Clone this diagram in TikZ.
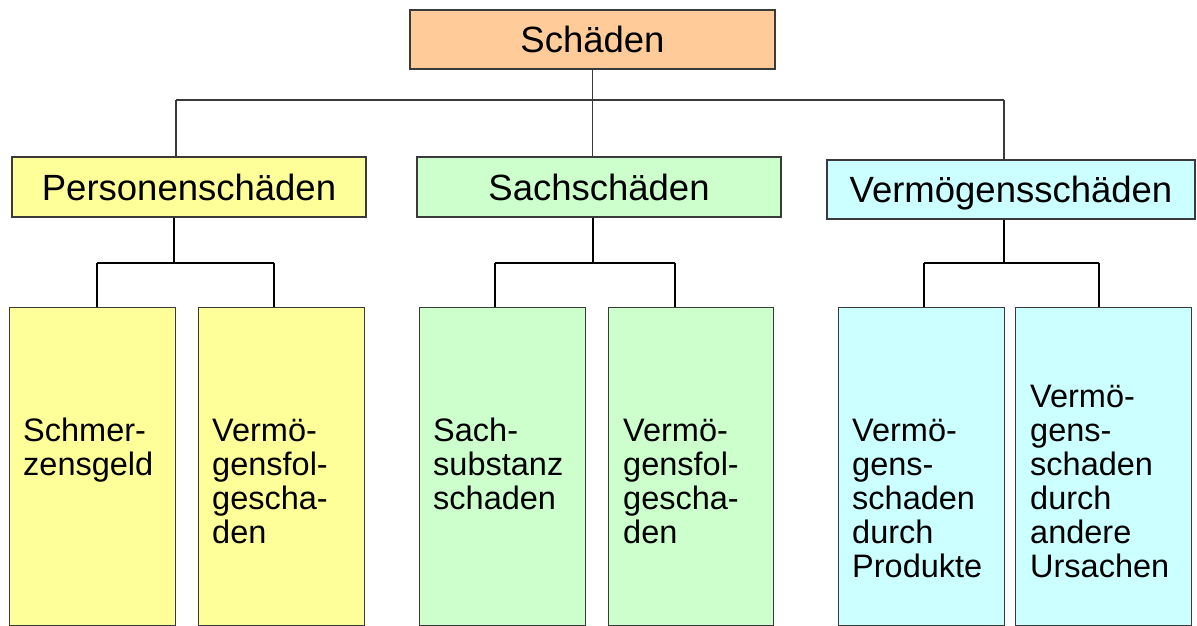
\documentclass[tikz,border=0pt]{standalone}
\usepackage{fontspec}
\setmainfont{Liberation Sans}
\definecolor{cOrange}{HTML}{FFCC99}
\definecolor{cYellow}{HTML}{FFFF99}
\definecolor{cGreen}{HTML}{CCFFCC}
\definecolor{cCyan}{HTML}{CCFFFF}
\definecolor{boxline}{HTML}{3A3A3A}
\tikzset{
  box/.style={draw=boxline, line width=1.3pt, inner sep=0pt, rectangle},
  topbox/.style={box, font=\fontsize{36.5}{40}\selectfont, text height=26pt, text depth=0pt},
  leaf/.style={box, anchor=north west, minimum width=166pt, minimum height=318pt},
  leaftext/.style={anchor=base west, inner sep=0pt, text width=170pt, align=left,
                   font=\fontsize{32.5}{34}\selectfont},
  thinconn/.style={draw=boxline, line width=1.2pt},
  thickconn/.style={draw=black, line width=2.5pt}
}
\begin{document}
\begin{tikzpicture}[x=1pt,y=-1pt]
\useasboundingbox (0,0) rectangle (1197,626);

% top level
\node[topbox, fill=cOrange, minimum width=365pt, minimum height=59pt] (root) at (592.5,39.5) {Schäden};
\node[topbox, fill=cYellow, minimum width=354pt, minimum height=60pt] (p) at (189,187) {Personenschäden};
\node[topbox, fill=cGreen, minimum width=364pt, minimum height=60pt] (s) at (599,187) {Sachschäden};
\node[topbox, fill=cCyan, minimum width=368pt, minimum height=59pt] (v) at (1011,189.5) {Vermögensschäden};

% leaves
\node[leaf, fill=cYellow] (l1) at (9,307) {};
\node[leaf, fill=cYellow] (l2) at (198,307) {};
\node[leaf, fill=cGreen] (l3) at (419,307) {};
\node[leaf, fill=cGreen, minimum width=165pt] (l4) at (608,307) {};
\node[leaf, fill=cCyan] (l5) at (838,307) {};
\node[leaf, fill=cCyan, minimum width=176pt] (l6) at (1015,307) {};

\node[leaftext] (t1) at (23,441) {Schmer-\\zensgeld};
\node[leaftext] (t2) at (212,441) {Vermö-\\gensfol-\\gescha-\\den};
\node[leaftext] (t3) at (433,441) {Sach-\\substanz\\schaden};
\node[leaftext] (t4) at (623,441) {Vermö-\\gensfol-\\gescha-\\den};
\node[leaftext] (t5) at (852,441) {Vermö-\\gens-\\schaden\\durch\\Produkte};
\node[leaftext] (t6) at (1030,407) {Vermö-\\gens-\\schaden\\durch\\andere\\Ursachen};

% top connectors
\coordinate (busL) at (176,100);
\coordinate (busR) at (1004,100);
\draw[thinconn] (busL) -- (busR);
\draw[thinconn] (root.south) -- (root.south |- s.north);
\draw[thinconn] (busL) -- (busL |- p.north);
\draw[thinconn] (busR) -- (busR |- v.north);

% Personen connectors
\coordinate (pj) at (174,263);
\coordinate (pl) at (97,263);
\coordinate (pr) at (274,263);
\draw[thickconn] (p.south -| pj) -- (pj);
\draw[thickconn] (pl) -- (pr);
\draw[thickconn] (pl) -- (pl |- l1.north);
\draw[thickconn] (pr) -- (pr |- l2.north);

% Sach connectors
\coordinate (sj) at (593,263);
\coordinate (sl) at (495,263);
\coordinate (sr) at (675,263);
\draw[thickconn] (s.south -| sj) -- (sj);
\draw[thickconn] (sl) -- (sr);
\draw[thickconn] (sl) -- (sl |- l3.north);
\draw[thickconn] (sr) -- (sr |- l4.north);

% Vermoegens connectors
\coordinate (vj) at (1004,263);
\coordinate (vl) at (924,263);
\coordinate (vr) at (1099,263);
\draw[thickconn] (v.south -| vj) -- (vj);
\draw[thickconn] (vl) -- (vr);
\draw[thickconn] (vl) -- (vl |- l5.north);
\draw[thickconn] (vr) -- (vr |- l6.north);
\end{tikzpicture}
\end{document}
